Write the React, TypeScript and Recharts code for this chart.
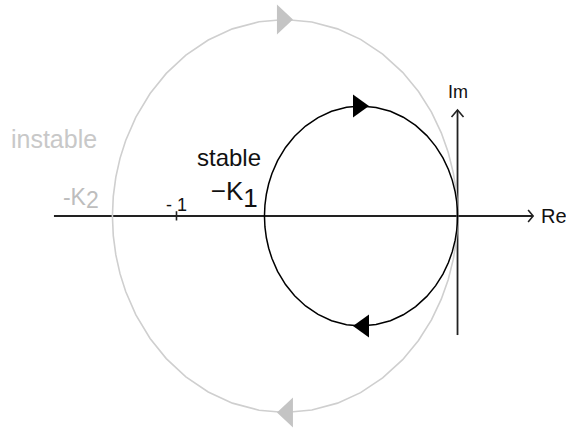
import { ScatterChart, Scatter, XAxis, YAxis, ReferenceLine } from "recharts";

// loop gains of the two Nyquist circles
const K1 = 0.687;
const K2 = 1.228;

// frequencies (rad/s) sampled along one half of each locus
const omegas = [
  0, 0.05, 0.1, 0.15, 0.2, 0.27, 0.35, 0.43, 0.52, 0.62, 0.73, 0.86, 1, 1.17,
  1.37, 1.6, 1.9, 2.3, 2.8, 3.5, 4.5, 6, 9, 15, 30, 1000,
];

// frequencies where the direction arrows sit
const arrowOmegas = [1, -1];

// extent of the Re / Im axes
const reAxis = [-1.436, 0.269];
const imAxis = [-0.372, 0.331];
const unitTick = -1;

const labels = [
  { x: -1.589, y: 0.2125, text: "instable", sub: "", kind: "grayBig" },
  { x: -0.927, y: 0.156, text: "stable", sub: "", kind: "dark" },
  { x: -0.878, y: 0.05, text: "\u2212K", sub: "1", kind: "darkK" },
  { x: -1.404, y: 0.034, text: "-K", sub: "2", kind: "grayK" },
  { x: -1.037, y: 0.016, text: "- 1", sub: "", kind: "small" },
  { x: -0.034, y: 0.369, text: "Im", sub: "", kind: "axis" },
  { x: 0.297, y: -0.022, text: "Re", sub: "", kind: "axisRe" },
];

const FONT = '"Liberation Sans", Arial, sans-serif';

const labelStyle: Record<string, { size: number; fill: string; dy: number }> = {
  grayBig: { size: 25, fill: "#c8c8c8", dy: 0 },
  dark: { size: 24, fill: "#111", dy: 0 },
  darkK: { size: 26, fill: "#111", dy: 7 },
  grayK: { size: 23, fill: "#bdbdbd", dy: 3 },
  small: { size: 18, fill: "#111", dy: 0 },
  axis: { size: 18, fill: "#111", dy: 0 },
  axisRe: { size: 20, fill: "#111", dy: 0 },
};

// G(jw) = -K / (1 + jw)
const point = (k: number, w: number) => ({
  x: -k / (1 + w * w),
  y: (k * w) / (1 + w * w),
});

const locus = (k: number) => [
  { x: 0, y: 0 },
  ...[...omegas].reverse().map((w) => point(k, w)),
  ...omegas.slice(1).map((w) => point(k, -w)),
  { x: 0, y: 0 },
];

const arrows = (k: number) =>
  arrowOmegas.map((w) => ({ ...point(k, w), dir: w > 0 ? 1 : -1 }));

const reArrow = [{ x: reAxis[1], y: 0, dir: "right" }];
const imArrow = [{ x: 0, y: imAxis[1], dir: "up" }];

const Hidden = () => <g />;

const makeTriangle =
  (fill: string, half: number) =>
  ({ cx, cy, payload }: any) => {
    const d = payload.dir;
    const pts = `${cx - 8 * d},${cy - half} ${cx + 8 * d},${cy} ${cx - 8 * d},${cy + half}`;
    return <polygon points={pts} fill={fill} />;
  };

const Chevron = ({ cx, cy, payload }: any) => {
  const d =
    payload.dir === "right"
      ? `M${cx - 5},${cy - 6}L${cx},${cy}L${cx - 5},${cy + 6}`
      : `M${cx - 6},${cy + 7}L${cx},${cy}L${cx + 6},${cy + 7}`;
  return <path d={d} fill="none" stroke="#222" strokeWidth={1.6} />;
};

const LabelText = ({ cx, cy, payload }: any) => {
  const s = labelStyle[payload.kind];
  return (
    <text x={cx} y={cy} fontFamily={FONT} fontSize={s.size} fill={s.fill}>
      {payload.text}
      {payload.sub && <tspan dy={s.dy}>{payload.sub}</tspan>}
    </text>
  );
};

export default function App() {
  return (
    <div style={{ position: "absolute", left: 0, top: 0, background: "#fff" }}>
      <ScatterChart
        width={566}
        height={432}
        margin={{ top: 0, right: 0, bottom: 0, left: 0 }}
      >
        <XAxis
          type="number"
          dataKey="x"
          domain={[-1.628, 0.386]}
          allowDataOverflow
          hide
        />
        <YAxis
          type="number"
          dataKey="y"
          domain={[-0.675, 0.675]}
          allowDataOverflow
          hide
        />
        <ReferenceLine
          segment={[
            { x: reAxis[0], y: 0 },
            { x: reAxis[1], y: 0 },
          ]}
          stroke="#222"
          strokeWidth={1.8}
        />
        <ReferenceLine
          segment={[
            { x: unitTick, y: -0.014 },
            { x: unitTick, y: 0.015 },
          ]}
          stroke="#222"
          strokeWidth={1.6}
        />
        <Scatter
          data={locus(K2)}
          line={{ stroke: "#cfcfcf", strokeWidth: 1.6 }}
          shape={Hidden}
          isAnimationActive={false}
        />
        <Scatter
          data={locus(K1)}
          line={{ stroke: "#000", strokeWidth: 1.5 }}
          shape={Hidden}
          isAnimationActive={false}
        />
        <ReferenceLine
          segment={[
            { x: 0, y: imAxis[0] },
            { x: 0, y: imAxis[1] },
          ]}
          stroke="#222"
          strokeWidth={1.8}
        />
        <Scatter
          data={arrows(K2)}
          shape={makeTriangle("#c4c4c4", 15)}
          isAnimationActive={false}
        />
        <Scatter
          data={arrows(K1)}
          shape={makeTriangle("#000", 11.5)}
          isAnimationActive={false}
        />
        <Scatter data={reArrow} shape={Chevron} isAnimationActive={false} />
        <Scatter data={imArrow} shape={Chevron} isAnimationActive={false} />
        <Scatter data={labels} shape={LabelText} isAnimationActive={false} />
      </ScatterChart>
    </div>
  );
}
